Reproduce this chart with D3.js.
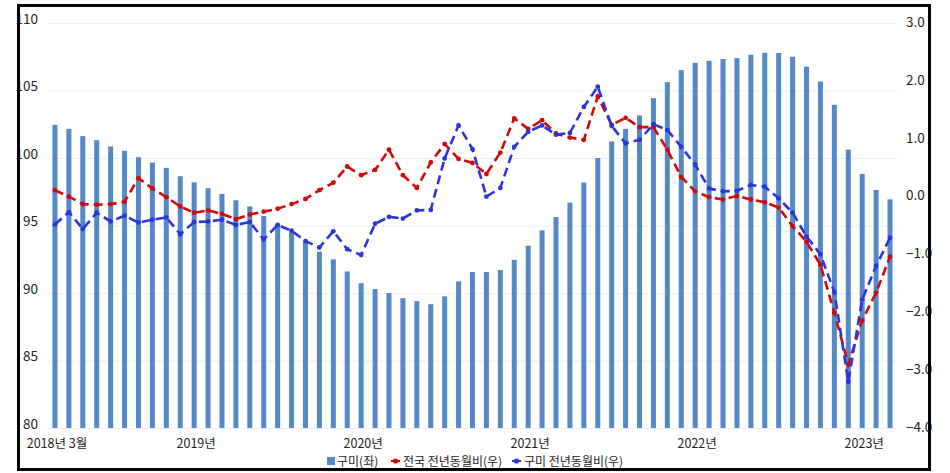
<!DOCTYPE html>
<html>
<head>
<meta charset="utf-8">
<script src="https://cdn.jsdelivr.net/npm/d3@7"></script>
<style>
  body { margin: 0; background: #fff; }
  text { font-family: "Noto Sans CJK KR", "Noto Sans", sans-serif; fill: #222; }
</style>
</head>
<body>
<div id="chart"></div>
<script>
// months 2018.03 ~ 2023.03
var months = [];
for (var yr = 2018; yr <= 2023; yr++) {
    for (var mo = 1; mo <= 12; mo++) {
        if ((yr == 2018 && mo < 3) || (yr == 2023 && mo > 3)) continue;
        months.push(yr + "." + (mo < 10 ? "0" + mo : mo));
    }
}

// 구미 index (left axis)
var gumiIndex = [102.45, 102.16, 101.62, 101.32, 100.85, 100.53, 100.06, 99.66, 99.27, 98.65,
    98.2, 97.76, 97.34, 96.87, 96.42, 95.7, 95.1, 94.5, 93.8, 93.06,
    92.49, 91.6, 90.73, 90.29, 89.99, 89.62, 89.4, 89.17, 89.75, 90.86,
    91.55, 91.55, 91.7, 92.46, 93.5, 94.64, 95.63, 96.69, 98.18, 100.0,
    101.22, 102.16, 103.15, 104.43, 105.62, 106.51, 107.05, 107.2, 107.33, 107.4,
    107.65, 107.8, 107.78, 107.5, 106.76, 105.67, 103.94, 100.62, 98.82, 97.63,
    96.94];

// 전국 전년동월비 (right axis)
var nationalYoY = [0.11, 0.0, -0.13, -0.14, -0.13, -0.09, 0.32, 0.14, -0.01, -0.17,
    -0.28, -0.24, -0.30, -0.39, -0.31, -0.26, -0.21, -0.13, -0.04, 0.11,
    0.24, 0.52, 0.37, 0.46, 0.81, 0.37, 0.15, 0.59, 0.91, 0.65,
    0.58, 0.39, 0.76, 1.35, 1.17, 1.32, 1.09, 1.02, 0.98, 1.73,
    1.24, 1.36, 1.20, 1.20, 0.81, 0.34, 0.09, -0.01, -0.05, 0.01,
    -0.05, -0.10, -0.19, -0.51, -0.78, -1.18, -2.01, -2.90, -2.14, -1.66,
    -1.04];

// 구미 전년동월비 (right axis)
var gumiYoY = [-0.48, -0.27, -0.56, -0.28, -0.43, -0.33, -0.45, -0.40, -0.36, -0.65,
    -0.44, -0.43, -0.40, -0.49, -0.44, -0.74, -0.49, -0.59, -0.77, -0.88,
    -0.60, -0.91, -1.01, -0.47, -0.35, -0.38, -0.24, -0.23, 0.66, 1.23,
    0.82, 0.0, 0.15, 0.86, 1.12, 1.23, 1.07, 1.10, 1.55, 1.90,
    1.22, 0.92, 0.98, 1.25, 1.15, 0.86, 0.55, 0.14, 0.09, 0.10,
    0.20, 0.17, -0.03, -0.28, -0.69, -1.00, -1.65, -3.20, -1.78, -1.20,
    -0.71];

var leftTicks = [80, 85, 90, 95, 100, 105, 110];
var rightTicks = [-4, -3, -2, -1, 0, 1, 2, 3];
var xLabels = {"2018.03": "2018년 3월", "2019.01": "2019년", "2020.01": "2020년",
    "2021.01": "2021년", "2022.01": "2022년", "2023.01": "2023년"};
var legendNames = ["구미(좌)", "전국 전년동월비(우)", "구미 전년동월비(우)"];

var W = 950, H = 473;
var plotLeft = 48, plotRight = 897, plotTop = 23, plotBottom = 428;

var svg = d3.select("#chart").append("svg")
    .attr("width", W)
    .attr("height", H);

var x = d3.scaleBand().domain(months).range([plotLeft, plotRight])
    .paddingInner(0.64).paddingOuter(0.32);
var yL = d3.scaleLinear().domain([80, 110]).range([plotBottom, plotTop]);
var yR = d3.scaleLinear().domain([-4, 3]).range([plotBottom, plotTop]);

// gridlines
svg.append("g")
    .attr("transform", "translate(" + plotLeft + ",0)")
    .call(d3.axisLeft(yL).tickValues(leftTicks).tickSize(-(plotRight - plotLeft)).tickFormat(""))
    .call(function(g) {
        g.select(".domain").remove();
        g.selectAll("line").attr("stroke", "#efefef");
    });

// left axis labels
svg.append("g")
    .attr("transform", "translate(38,-4)")
    .call(d3.axisLeft(yL).tickValues(leftTicks).tickSize(0).tickPadding(0))
    .call(function(g) {
        g.select(".domain").remove();
        g.selectAll("text").style("font-size", "13.5px").attr("fill", "#222");
    });

// right axis labels
svg.append("g")
    .attr("transform", "translate(906,-1)")
    .call(d3.axisRight(yR).tickValues(rightTicks).tickSize(0).tickPadding(0).tickFormat(d3.format(".1f")))
    .call(function(g) {
        g.select(".domain").remove();
        g.selectAll("text").style("font-size", "13.5px").attr("fill", "#222");
    });

// x labels
svg.append("g")
    .attr("transform", "translate(2,0)")
    .selectAll("text")
    .data(months.filter(function(d) { return xLabels[d]; }))
    .enter()
    .append("text")
    .attr("x", function(d) { return x(d) + x.bandwidth() / 2; })
    .attr("y", 447.5)
    .attr("text-anchor", "middle")
    .style("font-size", "12.5px")
    .text(function(d) { return xLabels[d]; });

// bars
svg.append("g")
    .selectAll("rect")
    .data(gumiIndex)
    .enter()
    .append("rect")
    .attr("x", function(d, i) { return x(months[i]); })
    .attr("width", x.bandwidth())
    .attr("y", function(d) { return yL(d); })
    .attr("height", function(d) { return plotBottom - yL(d); })
    .attr("fill", "#5588c6");

// lines
function drawLine(values, color) {
    var line = d3.line()
        .x(function(d, i) { return x(months[i]) + x.bandwidth() / 2; })
        .y(function(d) { return yR(d); });
    var g = svg.append("g");
    g.append("path")
        .datum(values)
        .attr("d", line)
        .attr("fill", "none")
        .attr("stroke", color)
        .attr("stroke-width", 2.6)
        .attr("stroke-dasharray", "9,5");
    g.selectAll("circle")
        .data(values)
        .enter()
        .append("circle")
        .attr("cx", function(d, i) { return x(months[i]) + x.bandwidth() / 2; })
        .attr("cy", function(d) { return yR(d); })
        .attr("r", 2.4)
        .attr("fill", color);
}
drawLine(nationalYoY, "#d00a0a");
drawLine(gumiYoY, "#2b35d8");

// legend
var lg = svg.append("g").attr("transform", "translate(0,461)");
lg.append("rect").attr("x", 327).attr("y", -4).attr("width", 8).attr("height", 8).attr("fill", "#5588c6");
lg.append("text").attr("x", 337).attr("y", 4.5).style("font-size", "12px").text(legendNames[0]);
[["#d00a0a", 391, 403, legendNames[1]], ["#2b35d8", 512, 524, legendNames[2]]].forEach(function(it) {
    lg.append("line").attr("x1", it[1]).attr("x2", it[1] + 9).attr("y1", 0).attr("y2", 0)
        .attr("stroke", it[0]).attr("stroke-width", 2);
    lg.append("circle").attr("cx", it[1] + 4.5).attr("cy", 0).attr("r", 2.6).attr("fill", it[0]);
    lg.append("text").attr("x", it[2]).attr("y", 4.5).style("font-size", "12px").text(it[3]);
});

// frame
svg.append("rect")
    .attr("x", 18.5).attr("y", 5.5)
    .attr("width", 911).attr("height", 464)
    .attr("fill", "none")
    .attr("stroke", "#000")
    .attr("stroke-width", 3);
</script>
</body>
</html>
